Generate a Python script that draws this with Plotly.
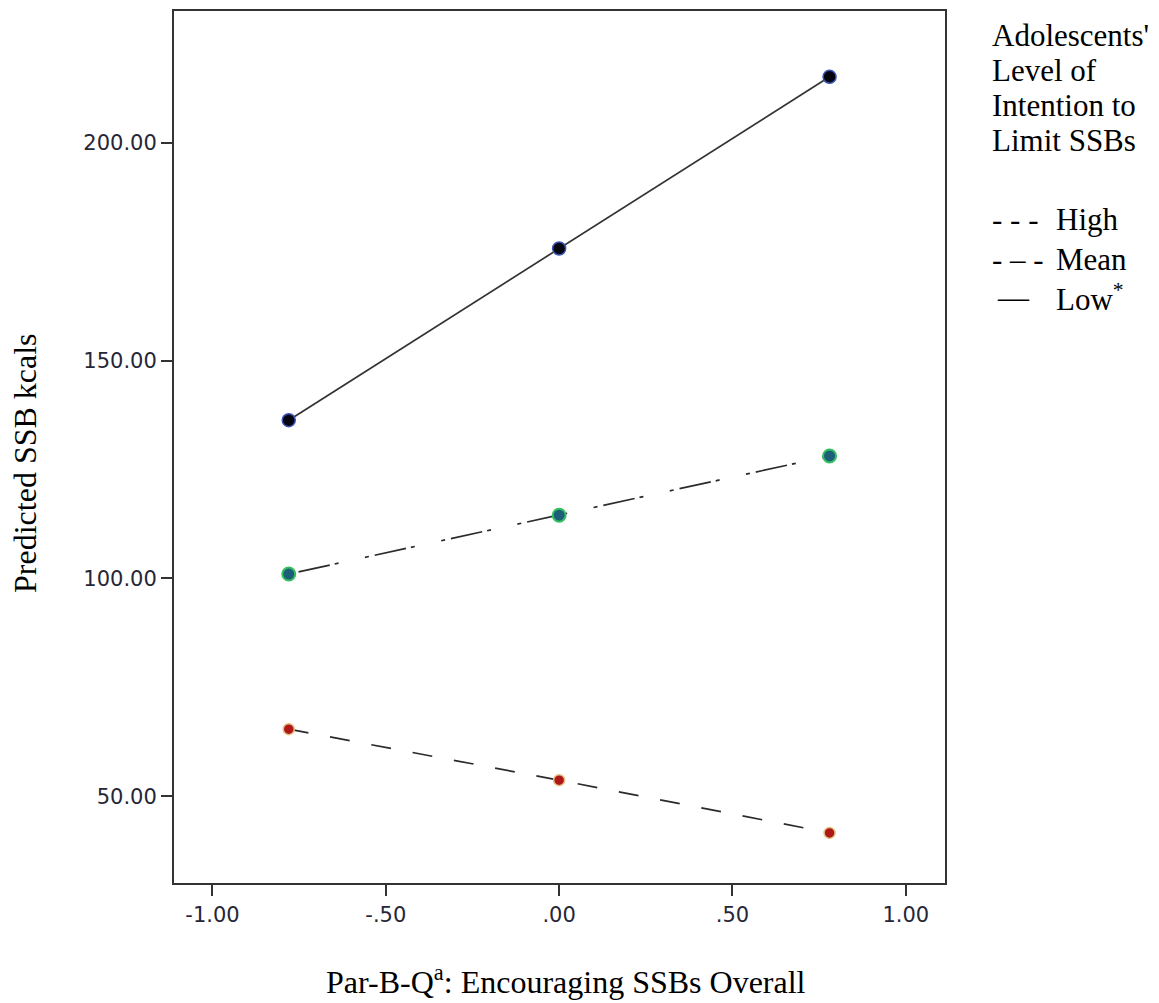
import plotly.graph_objects as go

# ---- data ----
x_vals = [-0.78, 0.0, 0.78]
low_vals = [136.3, 175.7, 215.1]
mean_vals = [101.0, 114.5, 128.1]
high_vals = [65.4, 53.7, 41.6]

x_ticks = [-1.0, -0.5, 0.0, 0.5, 1.0]
x_tick_labels = ["-1.00", "-.50", ".00", ".50", "1.00"]
y_ticks = [50, 100, 150, 200]
y_tick_labels = ["50.00", "100.00", "150.00", "200.00"]

legend_title = ["Adolescents'", "Level of", "Intention to", "Limit SSBs"]
legend_keys = ["- - -", "- \u2013 -", "\u2014"]
legend_names = ["High", "Mean", "Low<sup>*</sup>"]

# ---- layout geometry (page pixels) ----
W, H = 1159, 1003
OFF = 8  # default body margin of the page
L, R, T, B = 174, 945, 9, 883
PW, PH = R - L, B - T


def px(xp):
    return (xp - L) / PW


def py(yp):
    return (B - yp) / PH


SERIF = "Liberation Serif, Times New Roman, serif"
FS = 32
FS_LEG = 31

fig = go.Figure()

fig.add_trace(go.Scatter(
    x=x_vals, y=high_vals, mode="lines+markers", name="High",
    line=dict(color="#2b2b2b", width=1.7, dash="20px,22px"),
    marker=dict(size=11, color="#b01818", line=dict(color="#e2c286", width=1.5)),
))
fig.add_trace(go.Scatter(
    x=x_vals, y=mean_vals, mode="lines+markers", name="Mean",
    line=dict(color="#2b2b2b", width=1.7, dash="4px,6px,32px,5px,4px,27px"),
    marker=dict(size=13, color="#1d5f78", line=dict(color="#35c060", width=2)),
))
fig.add_trace(go.Scatter(
    x=x_vals, y=low_vals, mode="lines+markers", name="Low",
    line=dict(color="#333333", width=1.7),
    marker=dict(size=13, color="#050510", line=dict(color="#3a55b5", width=1.5)),
))

annotations = []
# y title
annotations.append(dict(
    x=px(25), y=py(462), xref="paper", yref="paper", text="Predicted SSB kcals",
    textangle=-90, showarrow=False, xanchor="center", yanchor="middle",
    font=dict(family=SERIF, size=FS, color="#000000"),
))
# x title
annotations.append(dict(
    x=px(566), y=py(980), xref="paper", yref="paper",
    text="Par-B-Q<sup>a</sup>: Encouraging SSBs Overall",
    showarrow=False, xanchor="center", yanchor="middle",
    font=dict(family=SERIF, size=FS, color="#000000"),
))
# legend title lines
title_centers = [34, 69, 104, 139]
for txt, yc in zip(legend_title, title_centers):
    annotations.append(dict(
        x=px(990), y=py(yc), xref="paper", yref="paper", text=txt,
        showarrow=False, xanchor="left", yanchor="middle",
        font=dict(family=SERIF, size=FS_LEG, color="#000000"),
    ))
# legend entries
entry_centers = [218, 258, 296]
key_x = [990, 990, 995]
for key, name, yc, kx in zip(legend_keys, legend_names, entry_centers, key_x):
    annotations.append(dict(
        x=px(kx), y=py(yc), xref="paper", yref="paper", text=key,
        showarrow=False, xanchor="left", yanchor="middle",
        font=dict(family=SERIF, size=FS_LEG, color="#000000"),
    ))
    annotations.append(dict(
        x=px(1054), y=py(yc), xref="paper", yref="paper", text=name,
        showarrow=False, xanchor="left", yanchor="middle",
        font=dict(family=SERIF, size=FS_LEG, color="#000000"),
    ))

tickfont = dict(family="DejaVu Sans, Verdana, sans-serif", size=21, color="#262636")

fig.update_layout(
    width=W, height=H,
    margin=dict(l=L - OFF, r=W - (R - OFF), t=T - OFF, b=H - (B - OFF), pad=0),
    paper_bgcolor="white", plot_bgcolor="white",
    showlegend=False,
    annotations=annotations,
    xaxis=dict(
        range=[-1.111, 1.113], tickvals=x_ticks, ticktext=x_tick_labels,
        showgrid=False, zeroline=False, showline=True, linecolor="#333333", linewidth=2,
        mirror=True, ticks="outside", ticklen=11, tickwidth=2, tickcolor="#333333",
        tickfont=tickfont, ticklabelstandoff=1,
    ),
    yaxis=dict(
        range=[30.1, 230.2], tickvals=y_ticks, ticktext=y_tick_labels,
        showgrid=False, zeroline=False, showline=True, linecolor="#333333", linewidth=2,
        mirror=True, ticks="outside", ticklen=11, tickwidth=2, tickcolor="#333333",
        tickfont=tickfont, ticklabelstandoff=0,
    ),
)

fig.write_html("out.html")
